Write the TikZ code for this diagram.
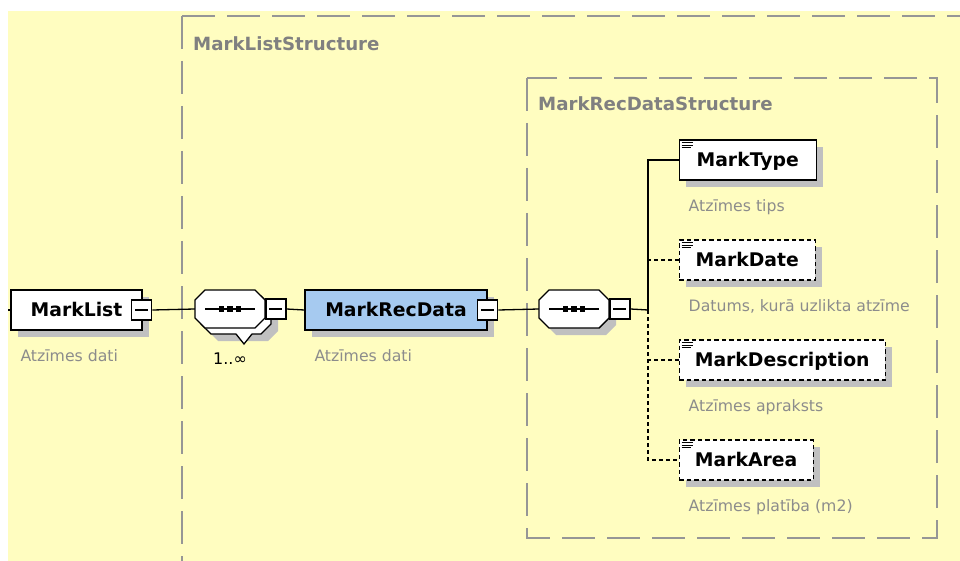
\documentclass[tikz,border=0pt]{standalone}
\usepackage{fontspec}
\setmainfont{DejaVu Sans}
\usepackage{tikz}
\usetikzlibrary{positioning,calc,shadows}
\definecolor{bgclr}{RGB}{255,253,192}
\definecolor{frameclr}{RGB}{150,150,150}
\definecolor{structclr}{RGB}{128,128,128}
\definecolor{descclr}{RGB}{140,140,140}
\definecolor{shadeclr}{RGB}{192,192,192}
\definecolor{complexclr}{RGB}{166,202,240}
\tikzset{
  boxshadow/.style={drop shadow={opacity=1,fill=shadeclr,
                    shadow xshift=7pt,shadow yshift=-7pt}},
  elem/.style={rectangle,draw=black,line width=1.4pt,fill=white,boxshadow,
               minimum height=40pt,inner sep=0pt,text height=13.7pt,text depth=0pt,
               font=\fontsize{18.8}{22}\selectfont\bfseries},
  optelem/.style={elem,dash pattern=on 4.5pt off 3pt},
  minusbtn/.style={rectangle,draw=black,line width=1.4pt,fill=white,
               minimum size=20pt,inner sep=0pt,
               path picture={\draw[line width=1.1pt]
                 ([xshift=3.5pt]path picture bounding box.west) --
                 ([xshift=-3.5pt]path picture bounding box.east);}},
  desc/.style={anchor=base west,text=descclr,inner sep=0pt,
               font=\fontsize{15.7}{18}\selectfont},
  mult/.style={anchor=base west,inner sep=0pt,font=\fontsize{16}{18}\selectfont},
  structlbl/.style={anchor=west,text=structclr,inner sep=0pt,
               font=\fontsize{18.2}{22}\selectfont\bfseries},
  frame/.style={draw=frameclr,line width=1.6pt,dash pattern=on 33pt off 12pt},
  conn/.style={line width=1.3pt},
  optconn/.style={conn,dash pattern=on 4pt off 3pt},
  seqhold/.style={rectangle,minimum width=70pt,minimum height=38pt,inner sep=0pt},
  octo/.style={draw=black,line width=1.4pt,fill=white},
  iconline/.style={line width=1.1pt},
}
\begin{document}
\begin{tikzpicture}[x=1pt,y=-1pt]
\useasboundingbox (0,0) rectangle (960,561);
\fill[bgclr] (8,11) rectangle (960,561);

% structure frames
\draw[frame] (182,16) -- (960,16);
\draw[frame] (182,16) -- (182,561);
\node[structlbl] (lblMarkList) at (193,44) {MarkListStructure};
\draw[frame] (527,78) rectangle (937,538);
\node[structlbl] (lblMarkRec) at (538,104) {MarkRecDataStructure};

% MarkList
\coordinate (lstart) at (8,310);
\node[elem,minimum width=131pt] (elMarkList) at (76.5,310) {MarkList};
\node[minusbtn] (btMarkList) at ([xshift=-1pt]elMarkList.east) {};
\node[desc] (dsMarkList) at ([xshift=10pt,yshift=-31pt]elMarkList.south west) {Atzīmes dati};

% sequence 1..inf
\node[seqhold] (sqMarkList) at (230,309) {};
\begin{scope}[shift={(sqMarkList.center)}]
  \draw[octo,boxshadow] (-29,-3) -- (-19,-13) -- (31,-13) -- (41,-3) -- (41,15)
        -- (31,25) -- (-19,25) -- (-29,15) -- cycle;
  \fill[white] (6,24) -- (14,35) -- (22,24) -- cycle;
  \draw[conn] (6,25) -- (14,35) -- (22,25);
  \draw[octo] (-35,-9) -- (-25,-19) -- (25,-19) -- (35,-9) -- (35,9)
        -- (25,19) -- (-25,19) -- (-35,9) -- cycle;
  \draw[line width=1.1pt] (-25,0) -- (25,0);
  \foreach \dx in {-8.5,0,8.5}
    \fill ({\dx-2.7},-2.7) rectangle ({\dx+2.7},2.7);
\end{scope}
\node[minusbtn,right=0pt of sqMarkList] (btSeqList) {};
\node[mult] (mlSeqList) at (213,364) {1..∞};

% MarkRecData
\node[elem,fill=complexclr,minimum width=182pt] (elMarkRecData) at (396,310) {MarkRecData};
\node[minusbtn] (btMarkRecData) at (elMarkRecData.east) {};
\node[desc] (dsMarkRecData) at ([xshift=10pt,yshift=-31pt]elMarkRecData.south west) {Atzīmes dati};

% sequence
\node[seqhold] (sqMarkRec) at (574,309) {};
\begin{scope}[shift={(sqMarkRec.center)}]
  \draw[octo,boxshadow] (-35,-9) -- (-25,-19) -- (25,-19) -- (35,-9) -- (35,9)
        -- (25,19) -- (-25,19) -- (-35,9) -- cycle;
  \draw[line width=1.1pt] (-25,0) -- (25,0);
  \foreach \dx in {-8.5,0,8.5}
    \fill ({\dx-2.7},-2.7) rectangle ({\dx+2.7},2.7);
\end{scope}
\node[minusbtn,right=0pt of sqMarkRec] (btSeqRec) {};
\coordinate (trunk) at (648,310);

% children
\node[elem,anchor=west,minimum width=137pt] (elMarkType) at (678.5,160) {MarkType};
\node[optelem,anchor=west,minimum width=136pt] (elMarkDate) at (678.5,260) {MarkDate};
\node[optelem,anchor=west,minimum width=206pt] (elMarkDescription) at (678.5,360) {MarkDescription};
\node[optelem,anchor=west,minimum width=134pt] (elMarkArea) at (678.5,460) {MarkArea};
\foreach \el in {elMarkType,elMarkDate,elMarkDescription,elMarkArea} {
  \draw[iconline] ($(\el.north west)+(3,3)$) -- +(11,0);
  \draw[iconline] ($(\el.north west)+(3,5.8)$) -- +(11,0);
  \draw[iconline] ($(\el.north west)+(3,8.6)$) -- +(9,0);
}
\node[desc] (dsMarkType) at ([xshift=10pt,yshift=-31pt]elMarkType.south west) {Atzīmes tips};
\node[desc] (dsMarkDate) at ([xshift=10pt,yshift=-31pt]elMarkDate.south west) {Datums, kurā uzlikta atzīme};
\node[desc] (dsMarkDescription) at ([xshift=10pt,yshift=-31pt]elMarkDescription.south west) {Atzīmes apraksts};
\node[desc] (dsMarkArea) at ([xshift=10pt,yshift=-31pt]elMarkArea.south west) {Atzīmes platība (m2)};

% connectors
\draw[conn] (lstart) -- (elMarkList.west);
\draw[conn] (btMarkList.east) -- (sqMarkList.west);
\draw[conn] (btSeqList.east) -- (elMarkRecData.west);
\draw[conn] (btMarkRecData.east) -- (sqMarkRec.west);
\draw[conn] (btSeqRec.east) -- (trunk);
\draw[optconn] (trunk) |- (elMarkArea.west);
\draw[optconn] (trunk) |- (elMarkDescription.west);
\draw[optconn] (trunk) |- (elMarkDate.west);
\draw[conn] (trunk) |- (elMarkType.west);
\end{tikzpicture}
\end{document}
